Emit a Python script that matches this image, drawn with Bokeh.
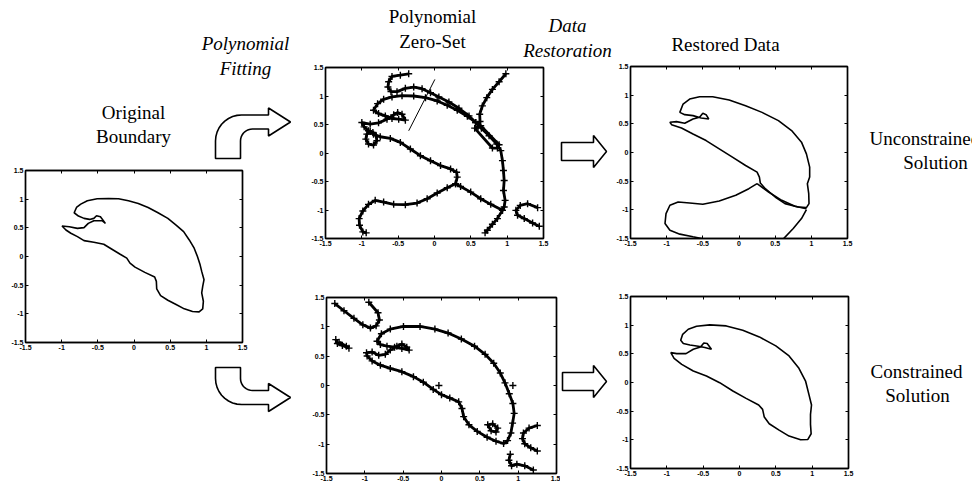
import math
from bokeh.plotting import figure
from bokeh.layouts import row, column
from bokeh.models import LinearAxis, FixedTicker, Range1d
from bokeh.core.properties import value
from bokeh.embed import file_html
from bokeh.resources import INLINE

# ---------------- data ----------------
ticks = [-1.5, -1, -0.5, 0, 0.5, 1, 1.5]
tick_labels = ["-1.5", "-1", "-0.5", "0", "0.5", "1", "1.5"]

# original boundary
orig_x = [-0.827, -0.795, -0.736, -0.645, -0.509, -0.35, -0.214, -0.077, 0.059, 0.195, 0.332, 0.468,
          0.582, 0.686, 0.764, 0.832, 0.877, 0.914, 0.936, 0.968, 0.95, 0.936, 0.959, 0.95, 0.9, 0.809,
          0.695, 0.582, 0.468, 0.368, 0.314, 0.309, 0.286, 0.15, 0.014, -0.055, -0.1, -0.191, -0.305,
          -0.418, -0.555, -0.691, -0.782, -0.873, -0.941, -0.995, -0.895, -0.782, -0.691, -0.632, -0.555,
          -0.441, -0.395, -0.464, -0.518, -0.555, -0.614, -0.691, -0.768]
orig_y = [0.763, 0.855, 0.913, 0.971, 1.006, 1.012, 1.006, 0.971, 0.925, 0.855, 0.763, 0.665, 0.549,
          0.434, 0.289, 0.145, 0.0, -0.145, -0.26, -0.405, -0.52, -0.636, -0.78, -0.913, -0.965, -0.96,
          -0.913, -0.838, -0.763, -0.682, -0.566, -0.434, -0.358, -0.277, -0.185, -0.116, -0.029, 0.04,
          0.127, 0.214, 0.249, 0.277, 0.347, 0.405, 0.462, 0.532, 0.52, 0.491, 0.503, 0.578, 0.624,
          0.624, 0.578, 0.694, 0.711, 0.665, 0.647, 0.665, 0.705]

# zero set, unconstrained fit
z1_main_x = [-0.839, -0.783, -0.700, -0.585, -0.447, -0.286, -0.124, 0.037, 0.175, 0.313, 0.452, 0.567,
             0.645, 0.751, 0.857, 0.912, 0.935, 0.949, 0.959, 0.949, 0.972, 0.959, 0.935, 0.774, 0.636,
             0.498, 0.359, 0.290, 0.313, 0.304, 0.221, 0.083, -0.055, -0.194, -0.332, -0.470, -0.608,
             -0.747, -0.839, -0.908, -0.968, -1.0, -0.885, -0.770, -0.654, -0.562, -0.507, -0.447,
             -0.401, -0.493, -0.585, -0.677, -0.770]
z1_main_y = [0.75, 0.866, 0.942, 0.983, 1.006, 1.0, 0.971, 0.913, 0.837, 0.75, 0.645, 0.535, 0.436,
             0.302, 0.157, 0.041, -0.134, -0.308, -0.483, -0.657, -0.831, -0.948, -1.006, -0.901,
             -0.802, -0.686, -0.587, -0.541, -0.424, -0.337, -0.279, -0.221, -0.134, -0.047, 0.07,
             0.186, 0.256, 0.285, 0.331, 0.39, 0.459, 0.535, 0.506, 0.529, 0.593, 0.669, 0.709, 0.680,
             0.576, 0.593, 0.605, 0.651, 0.692]
z1_curl_x = [-0.355, -0.470, -0.585, -0.631, -0.641, -0.599, -0.516, -0.401, -0.286, -0.171, -0.055,
             0.060, 0.198, 0.336, 0.475, 0.567]
z1_curl_y = [1.390, 1.366, 1.343, 1.25, 1.157, 1.076, 1.076, 1.134, 1.157, 1.128, 1.058, 0.983, 0.895,
             0.785, 0.651, 0.535]
z1_right_x = [0.982, 0.889, 0.797, 0.719, 0.659, 0.622, 0.627, 0.599]
z1_right_y = [1.390, 1.25, 1.116, 0.971, 0.826, 0.680, 0.552, 0.459]
z1_slot_x = [0.553, 0.797, 0.866, 0.889, 0.636]
z1_slot_y = [0.436, 0.087, 0.087, 0.145, 0.477]
z1_loop_x = [-0.885, -0.931, -0.945, -0.908, -0.839, -0.793, -0.802, -0.848]
z1_loop_y = [0.378, 0.331, 0.244, 0.157, 0.140, 0.215, 0.302, 0.360]
z1_low_x = [0.290, 0.175, 0.037, -0.101, -0.240, -0.401, -0.562, -0.700, -0.816, -0.908, -0.986,
            -1.037, -1.032, -0.986, -0.940]
z1_low_y = [-0.541, -0.610, -0.703, -0.802, -0.878, -0.907, -0.901, -0.860, -0.831, -0.901, -1.017,
            -1.151, -1.267, -1.384, -1.401]
z1_tail_x = [0.935, 0.866, 0.797, 0.728, 0.696]
z1_tail_y = [-1.006, -1.151, -1.25, -1.355, -1.401]
z1_u_x = [1.419, 1.281, 1.180, 1.120, 1.143, 1.235, 1.350, 1.442]
z1_u_y = [-0.959, -0.890, -0.919, -1.006, -1.093, -1.151, -1.227, -1.285]
z1_thin_x = [0.005, -0.355]
z1_thin_y = [1.291, 0.390]

# zero set, constrained fit
z2_main_x = [-0.841, -0.784, -0.668, -0.496, -0.280, -0.086, 0.086, 0.259, 0.431, 0.569, 0.681, 0.767,
             0.828, 0.884, 0.931, 0.948, 0.927, 0.905, 0.862, 0.810, 0.711, 0.595, 0.466, 0.358, 0.289,
             0.267, 0.224, 0.108, 0.0, -0.108, -0.237, -0.366, -0.517, -0.668, -0.797, -0.905, -0.970,
             -0.978, -0.905, -0.819, -0.733, -0.668, -0.582, -0.517, -0.453, -0.422, -0.517, -0.612,
             -0.711, -0.797]
z2_main_y = [0.754, 0.883, 0.961, 1.006, 1.006, 0.961, 0.894, 0.793, 0.670, 0.531, 0.380, 0.212, 0.045,
             -0.140, -0.307, -0.475, -0.642, -0.810, -0.939, -0.989, -0.950, -0.883, -0.782, -0.670,
             -0.531, -0.391, -0.279, -0.212, -0.156, -0.067, 0.056, 0.151, 0.235, 0.291, 0.346, 0.419,
             0.503, 0.559, 0.570, 0.514, 0.531, 0.603, 0.670, 0.709, 0.654, 0.603, 0.631, 0.654, 0.670,
             0.698]
z2_v_x = [-1.392, -1.272, -1.142, -1.026, -0.927, -0.853, -0.810, -0.828, -0.948]
z2_v_y = [1.397, 1.274, 1.145, 1.034, 0.978, 1.017, 1.117, 1.240, 1.419]
z2_blob_x = [-1.379, -1.358, -1.293, -1.207, -1.241, -1.336]
z2_blob_y = [0.782, 0.715, 0.682, 0.637, 0.670, 0.737]
z2_eye_x = [0.603, 0.668, 0.733, 0.711, 0.647]
z2_eye_y = [-0.670, -0.654, -0.726, -0.793, -0.771]
z2_u_x = [1.25, 1.142, 1.069, 1.056, 1.086, 1.164, 1.25]
z2_u_y = [-0.682, -0.726, -0.810, -0.905, -0.994, -1.061, -1.117]
z2_tail_x = [0.897, 0.879, 0.914, 0.983, 1.086, 1.198]
z2_tail_y = [-1.173, -1.274, -1.369, -1.341, -1.369, -1.441]
z2_dots_x = [-0.034, 0.931]
z2_dots_y = [0.0, 0.0]

# restored data, unconstrained
r1_main_x = [-0.818, -0.773, -0.682, -0.545, -0.364, -0.136, 0.091, 0.318, 0.545, 0.727, 0.864, 0.932,
             0.977, 0.977, 0.945, 0.964, 0.968, 0.932, 0.818, 0.636, 0.5, 0.364, 0.295, 0.282, 0.25,
             0.091, -0.091, -0.273, -0.455, -0.636, -0.795, -0.932, -0.955, -0.864, -0.75, -0.636,
             -0.545, -0.5, -0.455, -0.418, -0.523, -0.636, -0.75]
r1_main_y = [0.70, 0.845, 0.932, 0.973, 0.973, 0.915, 0.816, 0.70, 0.556, 0.382, 0.18, -0.023, -0.255,
             -0.428, -0.544, -0.718, -0.892, -0.961, -0.95, -0.892, -0.776, -0.631, -0.533, -0.428,
             -0.342, -0.226, -0.081, 0.064, 0.208, 0.324, 0.428, 0.486, 0.527, 0.538, 0.51, 0.585,
             0.614, 0.683, 0.66, 0.585, 0.602, 0.643, 0.66]
r1_lobe_x = [0.25, 0.136, -0.045, -0.273, -0.5, -0.682, -0.841, -0.955, -1.009, -1.023, -0.955, -0.818,
             -0.636, -0.5]
r1_lobe_y = [-0.544, -0.631, -0.747, -0.845, -0.903, -0.88, -0.863, -0.92, -1.065, -1.239, -1.355,
             -1.424, -1.471, -1.506]
r1_right_x = [0.932, 0.864, 0.75, 0.614]
r1_right_y = [-0.996, -1.152, -1.326, -1.506]
r1_seam_x = [0.25, 0.409, 0.591, 0.773, 0.932]
r1_seam_y = [-0.544, -0.689, -0.834, -0.938, -0.979]

# restored data, constrained
r2_x = [-0.809, -0.782, -0.705, -0.591, -0.409, -0.182, 0.045, 0.273, 0.5, 0.682, 0.818, 0.909, 0.955,
        0.991, 0.977, 0.977, 0.986, 0.941, 0.841, 0.682, 0.545, 0.409, 0.341, 0.318, 0.264, 0.091,
        -0.091, -0.273, -0.455, -0.636, -0.795, -0.9, -0.945, -0.864, -0.736, -0.636, -0.536, -0.491,
        -0.445, -0.386, -0.477, -0.568, -0.682, -0.773]
r2_y = [0.737, 0.841, 0.929, 0.981, 1.005, 0.987, 0.911, 0.795, 0.638, 0.463, 0.248, 0.026, -0.207,
        -0.393, -0.556, -0.731, -0.894, -0.993, -0.999, -0.935, -0.830, -0.719, -0.603, -0.469, -0.393,
        -0.277, -0.149, -0.003, 0.114, 0.201, 0.317, 0.422, 0.521, 0.504, 0.504, 0.579, 0.62, 0.69,
        0.679, 0.58, 0.609, 0.632, 0.655, 0.679]

# text
title_orig = ["Original", "Boundary"]
title_fit = ["Polynomial", "Fitting"]
title_zero = ["Polynomial", "Zero-Set"]
title_rest = ["Data", "Restoration"]
title_restored = ["Restored Data"]
label_unc = ["Unconstrained", "Solution"]
label_con = ["Constrained", "Solution"]

SERIF = "Liberation Serif"
FS = "19px"


def make_plot(width, height, left, top, fw, fh):
    p = figure(width=width, height=height, x_range=Range1d(-1.5, 1.5), y_range=Range1d(-1.5, 1.5),
               output_backend="svg", toolbar_location=None, title=None)
    p.min_border_left = left
    p.min_border_top = top
    p.min_border_right = width - left - fw
    p.min_border_bottom = height - top - fh
    p.add_layout(LinearAxis(), "above")
    p.add_layout(LinearAxis(), "right")
    for ax in p.axis:
        ax.ticker = FixedTicker(ticks=ticks)
        ax.major_label_overrides = dict(zip(ticks, tick_labels))
        ax.major_tick_in = 3
        ax.major_tick_out = 0
        ax.minor_tick_line_color = None
        ax.axis_line_color = "black"
        ax.axis_line_width = 1.4
        ax.major_tick_line_color = "black"
        ax.major_label_text_font = "Liberation Sans"
        ax.major_label_text_font_style = "bold"
        ax.major_label_text_font_size = "7px"
        ax.major_label_text_color = "black"
        ax.major_label_standoff = 2
    for ax in p.above + p.right:
        ax.major_label_text_font_size = "1px"
        ax.major_label_text_color = None
        ax.major_label_standoff = 0
    p.xgrid.visible = False
    p.ygrid.visible = False
    p.outline_line_color = "black"
    p.outline_line_width = 1.4
    p.background_fill_color = "white"
    p.border_fill_color = "white"
    return p


def make_decor(width, height):
    p = figure(width=width, height=height, x_range=Range1d(0, width), y_range=Range1d(height, 0),
               output_backend="svg", toolbar_location=None, title=None,
               x_axis_location=None, y_axis_location=None)
    p.min_border_left = 0
    p.min_border_right = 0
    p.min_border_top = 0
    p.min_border_bottom = 0
    p.xgrid.visible = False
    p.ygrid.visible = False
    p.outline_line_color = None
    p.background_fill_color = "white"
    p.border_fill_color = "white"
    return p


def words(p, xs, ys, strings, italic=False, align="center"):
    p.text(x=xs, y=ys, text=strings, text_align=align, text_baseline="middle",
           text_font=value(SERIF), text_font_size=value(FS),
           text_font_style="italic" if italic else "normal", text_color="black")


def bent_arrow(cy, sgn, stem_end, ox, oy):
    # hollow bent block arrow (outline in page pixels), sgn=+1 stem below, -1 stem above
    outer_y = cy - 7 * sgn
    inner_y = cy + 7 * sgn
    pts = [(215, stem_end)]
    for k in range(0, 10):
        t = math.radians(k * 10)
        pts.append((241 - 26 * math.cos(t), outer_y + 26 * sgn - 26 * sgn * math.sin(t)))
    pts += [(268, outer_y), (268, cy - 14 * sgn), (290, cy), (268, cy + 14 * sgn), (268, inner_y)]
    for k in range(0, 10):
        t = math.radians(k * 10)
        pts.append((252 - 12 * math.sin(t), inner_y + 12 * sgn - 12 * sgn * math.cos(t)))
    pts.append((240, stem_end))
    return [a - ox for a, b in pts], [b - oy for a, b in pts]


def straight_arrow(cy, x0, ox, oy):
    pts = [(x0, cy - 9), (593, cy - 9), (593, cy - 16), (606, cy), (593, cy + 16), (593, cy + 9),
           (x0, cy + 9)]
    return [a - ox for a, b in pts], [b - oy for a, b in pts]


ARROW = dict(fill_color="white", line_color="black", line_width=1.6)
THIN = dict(line_color="black", line_width=1.6)
THICK = dict(line_color="black", line_width=2.8)
CROSS = dict(marker="cross", size=7, line_width=1.4, color="black")

# ---------------- column A (x 0..300) ----------------
dA_top = make_decor(300, 162)
words(dA_top, [133, 133], [112, 136], title_orig)
words(dA_top, [245, 245], [43, 68], title_fit, italic=True)
ax_, ay_ = bent_arrow(121.5, 1, 158, 0, 0)
dA_top.patch(ax_, ay_, **ARROW)

pA = make_plot(300, 192, 25, 8, 217, 172)
pA.patch(orig_x, orig_y, fill_color=None, **THIN)

dA_bot = make_decor(300, 130)
ax_, ay_ = bent_arrow(397, -1, 367, 0, 354)
dA_bot.patch(ax_, ay_, **ARROW)

colA = column(dA_top, column(pA), dA_bot)

# ---------------- column B (x 300..613) ----------------
dB_top = make_decor(313, 62)
words(dB_top, [132, 132], [16, 41], title_zero)
words(dB_top, [267, 267], [25, 50], title_rest, italic=True)

pB1 = make_plot(250, 200, 25, 5, 218, 171)
pB1.patch(z1_main_x, z1_main_y, fill_color=None, **THICK)
pB1.scatter(z1_main_x, z1_main_y, **CROSS)
for xs, ys in [(z1_curl_x, z1_curl_y), (z1_right_x, z1_right_y), (z1_low_x, z1_low_y),
               (z1_tail_x, z1_tail_y), (z1_u_x, z1_u_y)]:
    pB1.line(xs, ys, **THICK)
    pB1.scatter(xs, ys, **CROSS)
for xs, ys in [(z1_slot_x, z1_slot_y), (z1_loop_x, z1_loop_y)]:
    pB1.patch(xs, ys, fill_color=None, **THICK)
    pB1.scatter(xs, ys, **CROSS)
pB1.line(z1_thin_x, z1_thin_y, line_color="black", line_width=1.0)

dB_ar1 = make_decor(63, 200)
ax_, ay_ = straight_arrow(151, 561, 550, 62)
dB_ar1.patch(ax_, ay_, **ARROW)

pB2 = make_plot(260, 222, 26, 35, 230, 176)
pB2.patch(z2_main_x, z2_main_y, fill_color=None, **THICK)
pB2.scatter(z2_main_x, z2_main_y, **CROSS)
for xs, ys in [(z2_v_x, z2_v_y), (z2_blob_x, z2_blob_y), (z2_u_x, z2_u_y), (z2_tail_x, z2_tail_y)]:
    pB2.line(xs, ys, **THICK)
    pB2.scatter(xs, ys, **CROSS)
pB2.patch(z2_eye_x, z2_eye_y, fill_color=None, **THICK)
pB2.scatter(z2_eye_x, z2_eye_y, **CROSS)
pB2.scatter(z2_dots_x, z2_dots_y, **CROSS)

dB_ar2 = make_decor(53, 222)
ax_, ay_ = straight_arrow(381, 562, 560, 262)
dB_ar2.patch(ax_, ay_, **ARROW)

colB = column(dB_top, row(column(pB1), dB_ar1), row(column(pB2), dB_ar2))

# ---------------- column C (x 613..972) ----------------
dC_top = make_decor(359, 60)
words(dC_top, [112], [44], title_restored)

pC1 = make_plot(247, 202, 14, 6, 220, 172)
pC1.patch(r1_main_x, r1_main_y, fill_color=None, **THIN)
pC1.line(r1_lobe_x, r1_lobe_y, **THIN)
pC1.line(r1_right_x, r1_right_y, **THIN)
pC1.line(r1_seam_x, r1_seam_y, **THIN)

dC_r1 = make_decor(112, 202)
words(dC_r1, [9], [78], label_unc[:1], align="left")
words(dC_r1, [75], [102], label_unc[1:])

pC2 = make_plot(247, 222, 14, 34, 221, 172)
pC2.patch(r2_x, r2_y, fill_color=None, **THIN)

dC_r2 = make_decor(112, 222)
words(dC_r2, [56, 57], [109, 133], label_con)

colC = column(dC_top, row(column(pC1), dC_r1), row(column(pC2), dC_r2))

layout = row(colA, colB, colC)
open("out.html", "w").write(file_html(layout, INLINE))
